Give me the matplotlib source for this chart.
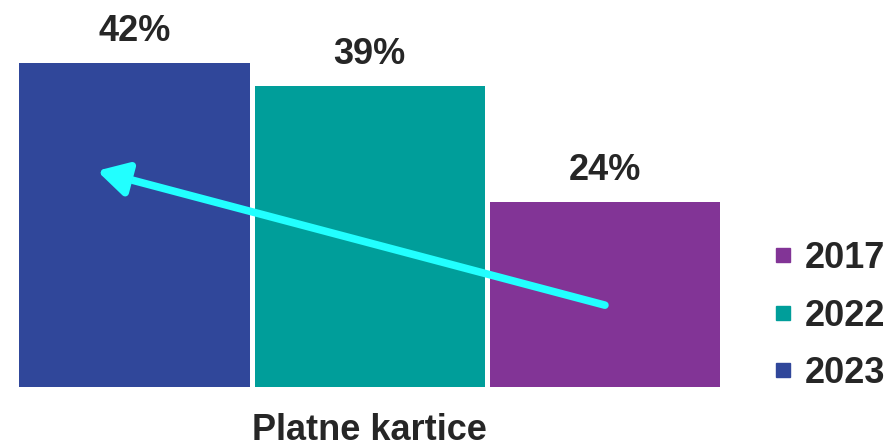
import matplotlib
matplotlib.use("Agg")
import matplotlib.pyplot as plt
from matplotlib.lines import Line2D
import matplotlib.patheffects as pe

plt.rcParams['font.family'] = ['Liberation Sans', 'DejaVu Sans']

years = ["2023", "2022", "2017"]
values = [42, 39, 24]
colors = ["#30479A", "#009E9A", "#823496"]
labels = ["42%", "39%", "24%"]
legend_order = ["2017", "2022", "2023"]
category = "Platne kartice"
arrow_start = (2.0, 10.6)
arrow_end = (-0.16, 28.0)

fig = plt.figure(figsize=(8.88, 4.48), dpi=100)
ax = fig.add_axes([17/888, 1-387/448, (722.5-17)/888, (387-16.4)/448])
x = list(range(len(values)))
ax.bar(x, values, width=0.98, color=colors)
for xi, v, lab in zip(x, values, labels):
    ax.text(xi, v + 1.8, lab, ha='center', va='bottom', fontsize=26, fontweight='bold', color='#262626')
ax.set_xlim(-0.5, 2.5)
ax.set_ylim(0, 48)
for s in ax.spines.values():
    s.set_visible(False)
ax.set_xticks([])
ax.set_yticks([])

ax.annotate("", xy=arrow_end, xytext=arrow_start,
            arrowprops=dict(arrowstyle="-|>,head_length=0.9,head_width=0.5",
                            mutation_scale=20, color="#22FFFF", lw=5.5,
                            shrinkA=0, shrinkB=0,
                            path_effects=[pe.SimplePatchShadow(offset=(2, -2), alpha=0.4), pe.Normal()]))

fig.text((17+722.5)/2/888, 0.001, category, ha='center', va='bottom', fontsize=26, fontweight='bold', color='#262626')

cmap = dict(zip(years, colors))
handles = [Line2D([], [], linestyle='none', marker='s', markersize=10, color=cmap[y]) for y in legend_order]
leg = fig.legend(handles, legend_order, loc='center left', bbox_to_anchor=(772/888, 1-316/448),
                 frameon=False, prop=dict(size=26, weight='bold'), labelcolor='#262626',
                 handlelength=0.6, handletextpad=0.3, labelspacing=0.62, borderpad=0, borderaxespad=0)

fig.savefig("out.png", dpi=100)
